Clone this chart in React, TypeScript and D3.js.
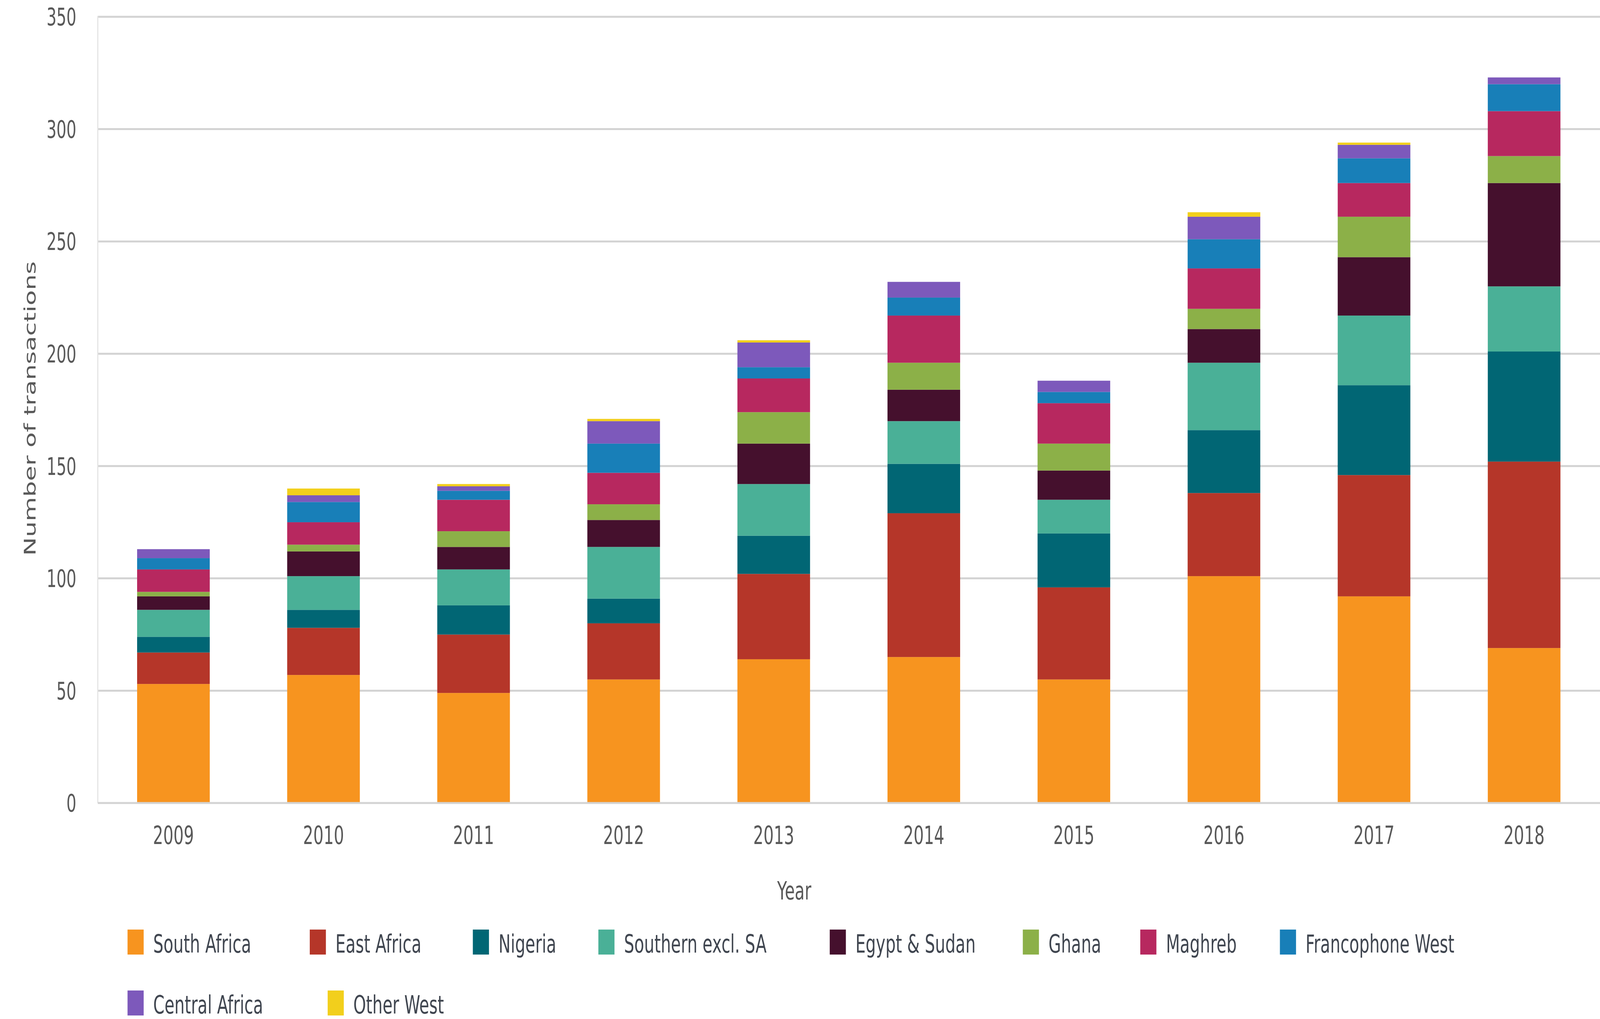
import React from "react";
import * as d3 from "d3";

const years = ["2009", "2010", "2011", "2012", "2013", "2014", "2015", "2016", "2017", "2018"];
const seriesNames = [
  "South Africa",
  "East Africa",
  "Nigeria",
  "Southern excl. SA",
  "Egypt & Sudan",
  "Ghana",
  "Maghreb",
  "Francophone West",
  "Central Africa",
  "Other West",
];
const southAfrica = [53, 57, 49, 55, 64, 65, 55, 101, 92, 69];
const eastAfrica = [14, 21, 26, 25, 38, 64, 41, 37, 54, 83];
const nigeria = [7, 8, 13, 11, 17, 22, 24, 28, 40, 49];
const southernExclSA = [12, 15, 16, 23, 23, 19, 15, 30, 31, 29];
const egyptSudan = [6, 11, 10, 12, 18, 14, 13, 15, 26, 46];
const ghana = [2, 3, 7, 7, 14, 12, 12, 9, 18, 12];
const maghreb = [10, 10, 14, 14, 15, 21, 18, 18, 15, 20];
const francophoneWest = [5, 9, 4, 13, 5, 8, 5, 13, 11, 12];
const centralAfrica = [4, 3, 2, 10, 11, 7, 5, 10, 6, 3];
const otherWest = [0, 3, 1, 1, 1, 0, 0, 2, 1, 0];
const yTicks = [0, 50, 100, 150, 200, 250, 300, 350];

const seriesValues = [
  southAfrica,
  eastAfrica,
  nigeria,
  southernExclSA,
  egyptSudan,
  ghana,
  maghreb,
  francophoneWest,
  centralAfrica,
  otherWest,
];

const colors = [
  "#F7941F",
  "#B53629",
  "#016674",
  "#4AB097",
  "#45102D",
  "#8CB048",
  "#B7285F",
  "#187FB8",
  "#7D59BB",
  "#F2CF1C",
];

// layout (not data)
const W = 6348;
const H = 2609;
const legendLayout = [
  { x: 506, row: 0 },
  { x: 1229, row: 0 },
  { x: 1876, row: 0 },
  { x: 2374, row: 0 },
  { x: 3292, row: 0 },
  { x: 4058, row: 0 },
  { x: 4524, row: 0 },
  { x: 5078, row: 0 },
  { x: 506, row: 1 },
  { x: 1300, row: 1 },
];

export default function App() {
  const table = years.map((y, i) => {
    const row: any = { year: y };
    seriesNames.forEach((s, k) => (row[s] = seriesValues[k][i]));
    return row;
  });
  const stacked = d3.stack<any>().keys(seriesNames)(table);

  const x = d3
    .scaleBand<string>()
    .domain(years)
    .range([388, 6347])
    .paddingInner(0.516)
    .paddingOuter(0.262);
  const y = d3.scaleLinear().domain([0, 350]).range([2056, 43]);

  const font = "DejaVu Sans, sans-serif";
  const tickColor = "#595959";

  return (
    <svg
      viewBox={`0 0 ${W} ${H}`}
      preserveAspectRatio="none"
      style={{
        position: "fixed",
        left: 0,
        top: 0,
        width: "100vw",
        height: "100vh",
        background: "#fff",
        display: "block",
      }}
    >
      <rect x={0} y={0} width={W} height={H} fill="#fff" />
      {yTicks.map((t) =>
        t === 0 ? null : (
          <line key={t} x1={388} x2={W} y1={y(t)} y2={y(t)} stroke="#d3d3d3" strokeWidth={5} />
        )
      )}
      <line x1={388} x2={388} y1={y(350) - 2} y2={y(0)} stroke="#e2e2e2" strokeWidth={4} />
      {stacked.map((layer, k) => (
        <g key={layer.key} fill={colors[k]}>
          {layer.map((d, i) =>
            d[1] - d[0] > 0 ? (
              <rect
                key={i}
                x={x(years[i])}
                width={x.bandwidth()}
                y={y(d[1])}
                height={y(d[0]) - y(d[1])}
              />
            ) : null
          )}
        </g>
      ))}
      <line x1={388} x2={W} y1={y(0)} y2={y(0)} stroke="#d3d3d3" strokeWidth={5} />
      {yTicks.map((t) => (
        <text
          key={t}
          x={303}
          y={y(t)}
          dy="0.36em"
          textAnchor="end"
          fontFamily={font}
          fontSize={62}
          fill={tickColor}
        >
          {t}
        </text>
      ))}
      {years.map((yr) => (
        <text
          key={yr}
          x={(x(yr) as number) + x.bandwidth() / 2}
          y={2161}
          textAnchor="middle"
          fontFamily={font}
          fontSize={64}
          fill={tickColor}
        >
          {yr}
        </text>
      ))}
      <text
        transform="translate(141,1046) rotate(-90)"
        textAnchor="middle"
        fontFamily={font}
        fontSize={64}
        fill={tickColor}
      >
        Number of transactions
      </text>
      <text x={3151} y={2303} textAnchor="middle" fontFamily={font} fontSize={64} fill={tickColor}>
        Year
      </text>
      {seriesNames.map((s, k) => {
        const L = legendLayout[k];
        const top = L.row === 0 ? 2380 : 2536;
        return (
          <g key={s}>
            <rect x={L.x} y={top} width={64} height={64} fill={colors[k]} />
            <text x={L.x + 102} y={top + 59} fontFamily={font} fontSize={64} fill="#404650">
              {s}
            </text>
          </g>
        );
      })}
    </svg>
  );
}
